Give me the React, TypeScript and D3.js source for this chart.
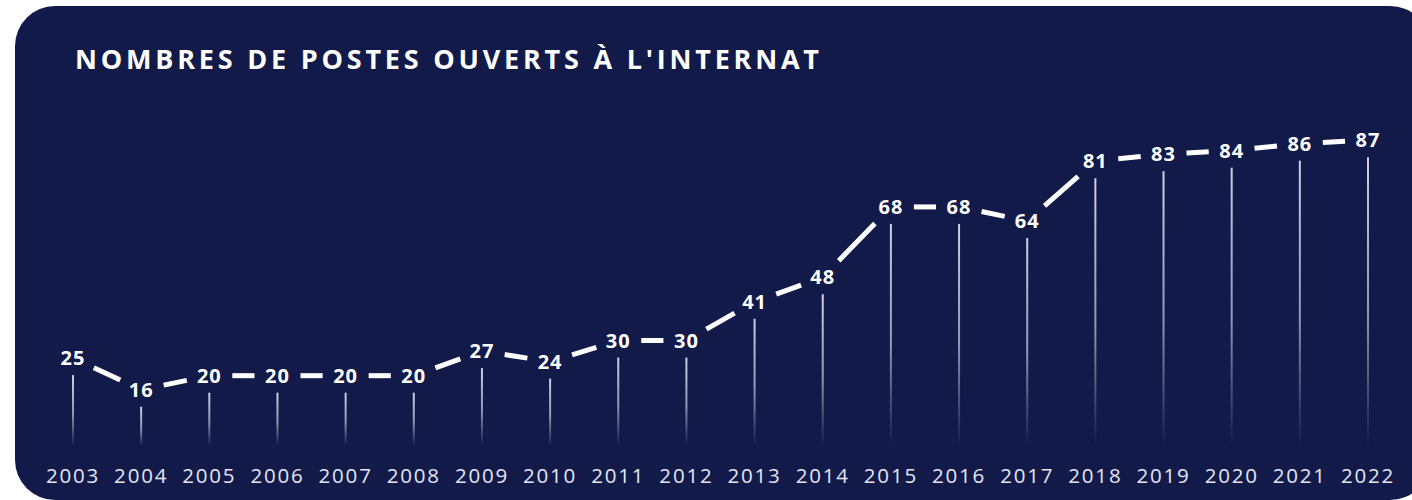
import React from "react";
import * as d3 from "d3";

const years: number[] = [2003, 2004, 2005, 2006, 2007, 2008, 2009, 2010, 2011, 2012, 2013, 2014, 2015, 2016, 2017, 2018, 2019, 2020, 2021, 2022];
const postes: number[] = [25, 16, 20, 20, 20, 20, 27, 24, 30, 30, 41, 48, 68, 68, 64, 81, 83, 84, 86, 87];
const title = "NOMBRES DE POSTES OUVERTS À L'INTERNAT";

const W = 1412;
const H = 500;
const BG = "#121a4a";
const FONT = "'Open Sans', 'DejaVu Sans', sans-serif";

export default function App() {
  const x = d3.scaleLinear().domain([2003, 2022]).range([73, 1368]);
  const y = d3.scaleLinear().domain([0, 100]).range([446, 94.4]);
  const baseY = y(0);
  const gap = 23;
  const line = d3.line<[number, number]>().x((d) => d[0]).y((d) => d[1]);

  const segments: [number, number][][] = [];
  for (let i = 0; i < years.length - 1; i++) {
    const x0 = x(years[i]), y0 = y(postes[i]);
    const x1 = x(years[i + 1]), y1 = y(postes[i + 1]);
    const dx = x1 - x0, dy = y1 - y0;
    const len = Math.sqrt(dx * dx + dy * dy);
    const ux = dx / len, uy = dy / len;
    segments.push([
      [x0 + ux * gap, y0 + uy * gap],
      [x1 - ux * gap, y1 - uy * gap],
    ]);
  }

  return (
    <svg width={W} height={H} style={{ position: "absolute", left: 0, top: 0, display: "block" }}>
      <defs>
        <linearGradient id="stemGrad" x1="0" y1="0" x2="0" y2="1">
          <stop offset="0" stopColor="#d6daea" stopOpacity={0.95} />
          <stop offset="0.55" stopColor="#c6cbe0" stopOpacity={0.7} />
          <stop offset="1" stopColor="#c6cbe0" stopOpacity={0} />
        </linearGradient>
      </defs>
      <rect x={0} y={0} width={W} height={H} fill="#ffffff" />
      <rect x={15} y={6} width={1415} height={494} rx={40} ry={40} fill={BG} />
      <text
        x={75}
        y={69}
        fill="#ffffff"
        fontFamily={FONT}
        fontWeight={700}
        fontSize={27}
        textLength={744}
        lengthAdjust="spacing"
      >
        {title}
      </text>
      {years.map((yr, i) => {
        const top = y(postes[i]) + 17;
        return (
          <rect
            key={"s" + yr}
            x={x(yr) - 1}
            y={top}
            width={2}
            height={baseY - top}
            fill="url(#stemGrad)"
          />
        );
      })}
      {segments.map((s, i) => (
        <path key={"l" + i} d={line(s) || ""} stroke="#ffffff" strokeWidth={5} fill="none" />
      ))}
      {years.map((yr, i) => (
        <text
          key={"v" + yr}
          x={x(yr)}
          y={y(postes[i]) + 7}
          textAnchor="middle"
          fill="#ffffff"
          fontFamily={FONT}
          fontWeight={700}
          fontSize={20}
          letterSpacing={1}
        >
          {postes[i]}
        </text>
      ))}
      {years.map((yr) => (
        <text
          key={"y" + yr}
          x={x(yr)}
          y={483}
          textAnchor="middle"
          fill="#e3e6f0"
          fontFamily={FONT}
          fontSize={20.5}
          letterSpacing={1.8}
        >
          {yr}
        </text>
      ))}
    </svg>
  );
}
